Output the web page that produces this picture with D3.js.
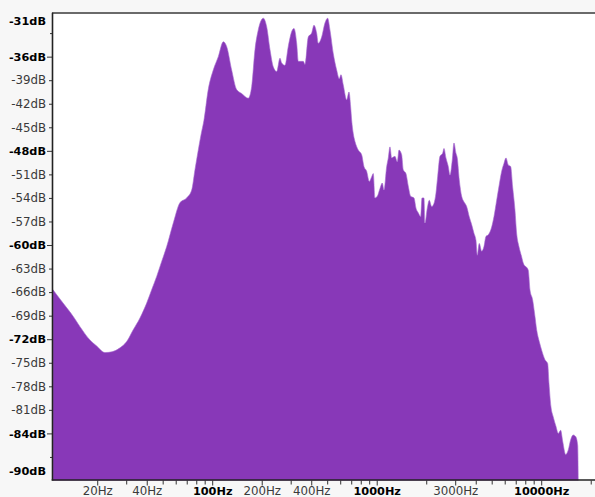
<!DOCTYPE html>
<html><head><meta charset="utf-8">
<script src="https://cdn.jsdelivr.net/npm/d3@7"></script>
<style>body{margin:0;background:#f7f7f7;} svg{display:block}</style>
</head><body><svg id="c" width="595" height="497"></svg>
<script>
// Spectrum data: frequency (Hz) and level (dB)
const freqHz = [10.77,12.4,14.3,15.71,18.07,19.93,22.29,24.59,27.5,30.2,33.1,36.38,39.96,42.85,45.97,49.29,52.88,57.99,63.68,69.95,75.04,78.57,82.3,85.4,89.1,94.6,101.5,108.9,116.8,122.4,131.3,140.8,151.1,165.7,173.8,182.0,190.5,204.4,214.4,224.5,235.1,246.6,258.2,264.5,276.9,290.0,304.2,314.1,326.3,333.7,357.8,366.4,383.7,402.3,415.5,431.5,441.3,462.8,484.7,503.4,519.8,544.5,570.9,592.1,606.5,626.2,656.8,678.3,694.6,704.4,720.3,737.8,772.6,810.3,836.8,869.0,901.2,932.1,953.2,976.1,1008,1047,1081,1107,1150,1176,1204,1233,1291,1334,1366,1418,1450,1506,1556,1609,1685,1733,1789,1851,1885,1938,1965,2030,2087,2158,2229,2292,2347,2424,2518,2564,2636,2723,2789,2879,2949,3032,3088,3176,3285,3392,3523,3653,3778,3902,4012,4086,4202,4346,4487,4615,4766,4999,5161,5361,5560,5749,5937,6106,6306,6521,6705,6924,7090,7323,7605,7780,8344,8544,8873,9164,9384,9732,10064,10541,10947,11148,11463,11838,12294,12697,13131,13505,14084,14606,15105,15665,16200,16660,16893];
const levelDb = [-65.7,-67.4,-69.1,-70.4,-72.1,-72.9,-73.7,-73.6,-73.1,-72.3,-70.8,-69.3,-67.4,-65.7,-64.0,-62.1,-60.2,-57.2,-54.6,-54.0,-53.0,-50.4,-47.9,-46.0,-44.1,-40.2,-37.7,-36.0,-34.1,-34.7,-37.7,-40.2,-40.7,-41.3,-39.8,-35.1,-32.6,-31.1,-32.2,-35.1,-37.3,-37.9,-36.2,-36.8,-37.1,-34.7,-32.8,-32.4,-34.3,-36.6,-36.6,-37.0,-33.5,-33.0,-32.0,-33.0,-34.3,-33.5,-31.7,-31.1,-32.6,-35.6,-37.7,-38.8,-38.3,-39.6,-41.5,-40.5,-42.4,-44.1,-45.8,-46.8,-47.9,-48.5,-50.0,-50.6,-51.9,-51.3,-50.9,-54.0,-53.8,-52.8,-52.1,-53.0,-50.0,-48.9,-47.5,-48.9,-48.7,-49.4,-47.9,-48.5,-50.4,-50.9,-52.5,-53.8,-54.0,-55.3,-55.9,-56.4,-54.0,-54.0,-57.2,-55.3,-54.3,-55.1,-54.7,-53.4,-51.3,-48.7,-48.3,-47.7,-48.9,-50.0,-51.1,-49.2,-47.0,-48.3,-48.9,-51.7,-53.8,-54.5,-55.1,-56.4,-57.4,-58.5,-59.4,-61.3,-59.8,-60.8,-60.2,-58.9,-58.7,-57.7,-56.4,-54.3,-52.3,-50.6,-49.6,-48.9,-49.8,-50.0,-52.6,-55.5,-58.5,-60.2,-61.5,-62.3,-63.2,-65.7,-67.0,-69.1,-70.8,-72.3,-73.4,-74.6,-75.1,-77.6,-80.6,-81.9,-83.1,-84.0,-83.6,-85.0,-86.7,-86.1,-84.8,-84.2,-84.4,-85.5,-95];

const yTickValues = [-33,-36,-39,-42,-45,-48,-51,-54,-57,-60,-63,-66,-69,-72,-75,-78,-81,-84,-87];
const yUnlabeled = [-33,-87];
const yBoldTicks = [-36,-48,-60,-72,-84];
const yEdgeLabels = [{v:-31,t:"-31dB"},{v:-90,t:"-90dB"}];
const xTickValues = [20,30,40,50,60,70,80,90,100,200,300,400,500,600,700,800,900,1000,2000,3000,4000,5000,6000,7000,8000,9000,10000,20000];
const xLabelTicks = [20,40,100,200,400,1000,3000,10000];
const xBoldTicks = [100,1000,10000];

const data = freqHz.map((f,i)=>({f, db: levelDb[i]}));

const svg = d3.select("#c");
const pLeft = 53, pTop = 12.7, pRight = 597.7, pBottom = 480.5;
const x = d3.scaleLog().domain([10.77, 22050]).range([pLeft, pRight]);
const y = d3.scaleLinear().domain([-90, -30.4]).range([pBottom, pTop]);

// plot background
svg.append("rect").attr("x", pLeft).attr("y", pTop).attr("width", 600-pLeft).attr("height", pBottom-pTop).attr("fill", "#fff");

svg.append("clipPath").attr("id","pc").append("rect")
  .attr("x", pLeft).attr("y", pTop+1).attr("width", 600-pLeft).attr("height", pBottom-pTop-1);

const area = d3.area().curve(d3.curveMonotoneX).x(d=>x(d.f)).y0(pBottom+5).y1(d=>y(d.db));
svg.append("path").datum(data).attr("clip-path","url(#pc)")
  .attr("d", area).attr("fill", "#8838b8").attr("stroke","#a66bd0").attr("stroke-width",0.6);

// top frame line
svg.append("line").attr("x1", pLeft-1).attr("x2", 600).attr("y1", 13).attr("y2", 13)
  .attr("stroke", "#6a6a6a").attr("stroke-width", 2);

const font = "DejaVu Sans";
// Y axis
const yAxis = d3.axisLeft(y).tickValues(yTickValues).tickSizeOuter(0)
  .tickFormat(d => yUnlabeled.includes(d) ? "" : d + "dB");
const gy = svg.append("g").attr("transform", `translate(${pLeft},0)`).call(yAxis);
gy.select(".domain").remove();
gy.selectAll(".tick line").attr("stroke", "#333")
  .attr("x2", d => yBoldTicks.includes(d) ? -6 : (yUnlabeled.includes(d) ? -3 : -4));
gy.selectAll(".tick text").attr("x", -7)
  .attr("font-family", font)
  .attr("font-size", d => yBoldTicks.includes(d) ? 11.3 : 11.8)
  .attr("font-weight", d => yBoldTicks.includes(d) ? "bold" : "normal")
  .attr("fill", d => yBoldTicks.includes(d) ? "#000" : "#3a3a3a");
svg.append("g").selectAll("text").data(yEdgeLabels).join("text")
  .attr("x", pLeft-7).attr("y", d => d.v === -31 ? y(-31) + 4 : y(-90) - 9.5)
  .attr("dy","0.32em").attr("text-anchor","end")
  .attr("font-family", font).attr("font-size", 11.3).attr("font-weight","bold").attr("fill","#000")
  .text(d => d.t);
svg.append("line").attr("x1", pLeft-0.5).attr("x2", pLeft-0.5).attr("y1", pTop).attr("y2", pBottom)
  .attr("stroke", "#222").attr("stroke-width", 1.6);

// X axis
const xAxis = d3.axisBottom(x).tickValues(xTickValues).tickSizeOuter(0)
  .tickFormat(d => xLabelTicks.includes(d) ? d + "Hz" : "");
const gx = svg.append("g").attr("transform", `translate(0,${pBottom})`).call(xAxis);
gx.select(".domain").remove();
gx.selectAll(".tick line").attr("stroke", "#333").attr("y2", d => xLabelTicks.includes(d) ? 5 : 4);
gx.selectAll(".tick text").attr("y", 14.8).attr("dy", 0)
  .attr("font-family", font)
  .attr("font-size", d => xBoldTicks.includes(d) ? 11.3 : 11.8)
  .attr("font-weight", d => xBoldTicks.includes(d) ? "bold" : "normal")
  .attr("fill", d => xBoldTicks.includes(d) ? "#000" : "#3a3a3a");
svg.append("line").attr("x1", pLeft-1.3).attr("x2", 600).attr("y1", pBottom-0.5).attr("y2", pBottom-0.5)
  .attr("stroke", "#222").attr("stroke-width", 1.6);
</script></body></html>
